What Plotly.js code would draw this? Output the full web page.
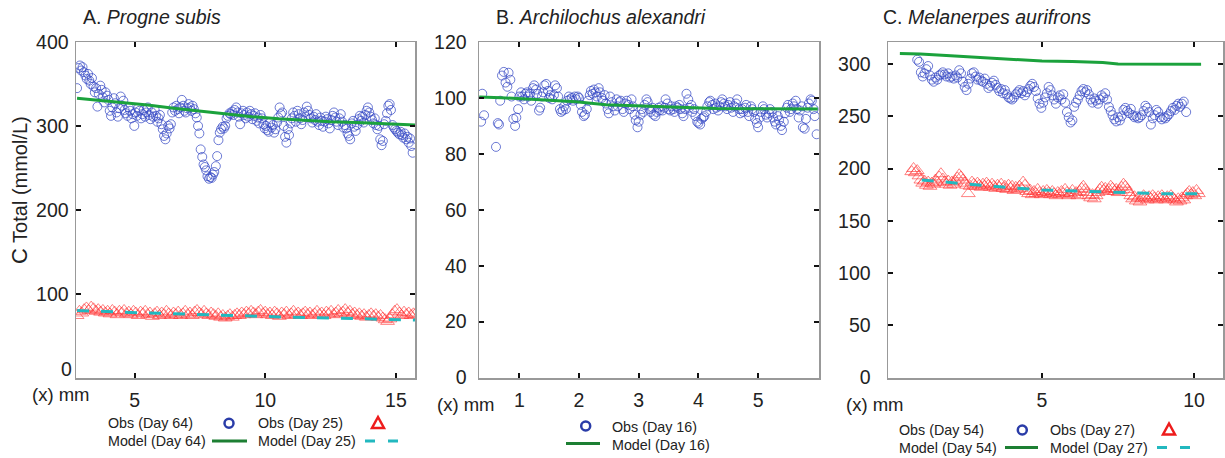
<!DOCTYPE html>
<html><head><meta charset="utf-8">
<script src="https://cdn.plot.ly/plotly-3.0.1.min.js"></script>
<style>html,body{margin:0;padding:0;background:#fff;}#chart{width:1225px;height:458px;}</style>
</head><body><div id="chart"></div>
<script>
// ---------- Panel A: Progne subis ----------
const obsA64_x=[2.80,2.86,2.91,2.96,3.01,3.06,3.12,3.17,3.22,3.27,3.32,3.37,3.43,3.48,3.53,3.58,3.63,3.69,3.74,3.79,3.84,3.89,3.95,4.00,4.05,4.10,4.15,4.21,4.26,4.31,4.36,4.41,4.47,4.52,4.57,4.62,4.67,4.73,4.78,4.83,4.88,4.93,4.99,5.04,5.09,5.14,5.19,5.25,5.30,5.35,5.40,5.45,5.51,5.56,5.61,5.66,5.71,5.77,5.82,5.87,5.92,5.97,6.03,6.08,6.13,6.18,6.23,6.29,6.34,6.39,6.44,6.49,6.55,6.60,6.65,6.70,6.75,6.81,6.86,6.91,6.96,7.01,7.07,7.12,7.17,7.22,7.27,7.33,7.38,7.43,7.48,7.53,7.59,7.64,7.69,7.74,7.79,7.85,7.90,7.95,8.00,8.05,8.11,8.16,8.21,8.26,8.31,8.37,8.42,8.47,8.52,8.57,8.63,8.68,8.73,8.78,8.83,8.89,8.94,8.99,9.04,9.09,9.15,9.20,9.25,9.30,9.35,9.41,9.46,9.51,9.56,9.61,9.67,9.72,9.77,9.82,9.87,9.93,9.98,10.03,10.08,10.13,10.19,10.24,10.29,10.34,10.39,10.45,10.50,10.55,10.60,10.65,10.71,10.76,10.81,10.86,10.91,10.97,11.02,11.07,11.12,11.17,11.23,11.28,11.33,11.38,11.43,11.49,11.54,11.59,11.64,11.69,11.75,11.80,11.85,11.90,11.95,12.01,12.06,12.11,12.16,12.21,12.27,12.32,12.37,12.42,12.47,12.53,12.58,12.63,12.68,12.73,12.79,12.84,12.89,12.94,12.99,13.05,13.10,13.15,13.20,13.25,13.31,13.36,13.41,13.46,13.51,13.57,13.62,13.67,13.72,13.77,13.83,13.88,13.93,13.98,14.03,14.09,14.14,14.19,14.24,14.29,14.35,14.40,14.45,14.50,14.55,14.61,14.66,14.71,14.76,14.81,14.87,14.92,14.97,15.02,15.07,15.13,15.18,15.23,15.28,15.33,15.39,15.44,15.49,15.54,15.59,15.64];
const obsA64_y=[345,369,372,366,370,364,360,356,362,354,350,357,347,340,345,323,338,348,343,334,328,340,336,331,318,312,322,333,327,316,311,321,335,324,330,319,315,312,322,318,309,314,300,316,312,321,318,309,314,319,311,316,322,313,308,316,311,319,312,305,309,313,302,296,288,284,291,300,297,302,316,322,318,324,320,315,322,331,324,318,316,321,326,322,318,324,320,315,310,300,291,272,263,254,251,247,240,237,239,238,242,245,252,264,283,292,296,299,297,300,309,312,315,314,317,313,319,322,316,311,302,315,318,313,309,316,311,318,314,308,312,315,306,310,303,313,309,302,297,300,295,293,304,298,301,292,296,304,310,322,314,316,300,287,280,296,289,303,309,316,312,305,318,314,309,302,307,316,311,323,318,313,309,304,311,307,314,305,301,310,306,299,305,311,308,303,297,307,312,316,310,305,301,309,314,305,298,301,297,291,288,284,303,306,299,294,301,308,312,306,311,304,313,318,322,316,311,307,303,309,301,296,300,284,277,282,302,306,315,324,326,319,301,298,296,294,292,290,293,289,286,291,284,287,280,285,276,268];
const obsA25_x=[2.80,2.89,2.98,3.07,3.16,3.25,3.34,3.43,3.52,3.61,3.70,3.79,3.88,3.97,4.06,4.15,4.24,4.33,4.42,4.51,4.60,4.69,4.78,4.87,4.96,5.05,5.14,5.23,5.32,5.41,5.50,5.59,5.68,5.77,5.86,5.95,6.04,6.13,6.22,6.31,6.40,6.49,6.58,6.67,6.76,6.85,6.94,7.03,7.12,7.21,7.30,7.39,7.48,7.57,7.66,7.75,7.84,7.93,8.02,8.11,8.20,8.29,8.38,8.47,8.56,8.65,8.74,8.83,8.92,9.01,9.10,9.19,9.28,9.37,9.46,9.55,9.64,9.73,9.82,9.91,10.00,10.09,10.18,10.27,10.36,10.45,10.54,10.63,10.72,10.81,10.90,10.99,11.08,11.17,11.26,11.35,11.44,11.53,11.62,11.71,11.80,11.89,11.98,12.07,12.16,12.25,12.34,12.43,12.52,12.61,12.70,12.79,12.88,12.97,13.06,13.15,13.24,13.33,13.42,13.51,13.60,13.69,13.78,13.87,13.96,14.05,14.14,14.23,14.32,14.41,14.50,14.59,14.68,14.77,14.86,14.95,15.04,15.13,15.22,15.31,15.40,15.49,15.58,15.67,15.73];
const obsA25_y=[74,79,77,81,83,80,84,82,79,81,78,80,77,79,76,80,78,75,79,77,80,76,78,75,79,77,74,78,76,79,75,77,73,76,78,74,77,75,79,76,74,77,75,78,74,76,79,75,77,74,78,80,77,75,79,76,74,77,75,73,76,72,74,71,73,75,72,74,76,74,77,75,78,76,79,77,75,78,80,76,78,75,77,74,78,76,73,77,75,78,74,76,79,75,77,74,76,78,75,77,74,76,79,75,77,74,78,76,79,75,77,80,76,78,81,77,79,75,77,74,76,73,75,72,74,76,73,75,72,74,71,69,67,70,75,79,81,77,74,78,75,77,74,76,75];
const modA64_x=[2.8,3.5,4.5,5.5,6.5,7.5,8.5,9.5,10.5,11.5,12.5,13.5,14.5,15.73];
const modA64_y=[333,331,328,325,321,317.5,314,311,308.5,306.5,305,304,302.5,301];
const modA25_x=[2.8,3.5,4.5,5.5,6.5,7.5,8.5,9.5,10.5,11.5,12.5,13.5,14.5,15.73];
const modA25_y=[80,79.5,78,77,76,75.5,74,73,72,71.5,71,70,69,68.5];

// ---------- Panel B: Archilochus alexandri ----------
const obsB16_x=[0.36,0.38,0.41,0.61,0.64,0.66,0.68,0.71,0.74,0.77,0.80,0.82,0.85,0.87,0.90,0.93,0.95,0.98,1.00,1.03,1.05,1.08,1.10,1.13,1.15,1.18,1.20,1.23,1.25,1.28,1.30,1.33,1.35,1.38,1.40,1.42,1.45,1.48,1.50,1.52,1.55,1.58,1.60,1.63,1.65,1.68,1.70,1.73,1.75,1.78,1.80,1.83,1.85,1.88,1.90,1.93,1.95,1.98,2.00,2.03,2.05,2.08,2.10,2.13,2.15,2.18,2.20,2.23,2.25,2.28,2.30,2.33,2.35,2.38,2.40,2.43,2.45,2.48,2.50,2.52,2.55,2.57,2.60,2.63,2.65,2.68,2.70,2.73,2.75,2.78,2.80,2.83,2.85,2.88,2.90,2.93,2.95,2.98,3.00,3.03,3.05,3.08,3.10,3.13,3.15,3.18,3.20,3.23,3.25,3.28,3.30,3.33,3.35,3.38,3.40,3.43,3.45,3.48,3.50,3.53,3.55,3.58,3.60,3.63,3.65,3.68,3.70,3.73,3.75,3.78,3.80,3.83,3.85,3.88,3.90,3.93,3.95,3.98,4.00,4.03,4.05,4.08,4.10,4.13,4.15,4.18,4.20,4.23,4.25,4.28,4.30,4.33,4.35,4.38,4.40,4.43,4.45,4.48,4.50,4.53,4.55,4.58,4.60,4.63,4.65,4.68,4.70,4.73,4.75,4.78,4.80,4.83,4.85,4.88,4.90,4.93,4.95,4.98,5.00,5.03,5.05,5.08,5.10,5.13,5.15,5.18,5.20,5.23,5.25,5.28,5.30,5.33,5.35,5.38,5.40,5.43,5.45,5.48,5.50,5.53,5.55,5.58,5.60,5.63,5.65,5.68,5.70,5.73,5.75,5.78,5.80,5.83,5.85,5.88,5.90,5.93,5.95,5.98];
const obsB16_y=[91.5,101.5,93.8,82.5,91,90.5,99,108,109.3,105.5,104,109,106.5,100.5,92.5,90,93,96,100.5,102,100.5,99.5,101.5,102,100.5,101.5,99,103.5,104.5,103,101.5,95.5,96.5,100.5,102,104.5,105,102.5,100,101,99.5,101,104.5,103.5,100.5,96,95,95.5,97,96,99,100.5,99.5,100,99,100.5,99.5,100.5,100,97.5,95,93.5,94,96,99,101,102.5,101.5,103,102,100.5,103.5,102,100,99,101,98,96,94.5,100.5,98.5,97,95.5,99.5,97,98.5,99,96,95,98,99,97.5,96,99.5,97,94,92,89.5,91.5,94,96,95,97.5,99.5,98.5,96,95,96.5,94,93.5,95,96.5,95.5,97,95.5,96.5,99.5,98,96,95.5,97,96,95,97,96.5,97.5,96,94.5,93.5,96,101.5,99.5,96.5,97.5,95,96,93.5,91.5,91,90.5,92.5,93,93.5,95,97,98.5,99,97.5,96,98,96.5,95.5,97,98.5,99.5,98,97,96,97.5,98.5,96.5,95,97,98,99.5,96,94.5,96,95,96.5,97.5,95,93.5,97,96,95,92.5,91,89.5,93,95,97,96,94,93,94.5,96,95,93,91.5,90.5,93.5,92,90,88.5,91.5,94.5,96.5,97.5,95,96,98,97,99,96,93,95.5,97,89.5,89,92.5,96.5,98,99.5,99,96,93.5,87];
const modB16_x=[0.33,0.7,1.2,1.95,2.45,3.0,3.3,3.8,4.3,5.0,5.5,6.0];
const modB16_y=[100.3,100.1,99.5,98.6,97.6,97.2,96.8,96.6,96.2,96.1,96.0,96.0];

// ---------- Panel C: Melanerpes aurifrons ----------
const obsC54_x=[0.90,0.96,1.02,1.08,1.14,1.20,1.26,1.32,1.38,1.44,1.50,1.56,1.62,1.68,1.74,1.80,1.86,1.92,1.98,2.04,2.10,2.16,2.22,2.28,2.34,2.40,2.46,2.52,2.58,2.64,2.70,2.76,2.82,2.88,2.94,3.00,3.06,3.12,3.18,3.24,3.30,3.36,3.42,3.48,3.54,3.60,3.66,3.72,3.78,3.84,3.90,3.96,4.02,4.08,4.14,4.20,4.26,4.32,4.38,4.44,4.50,4.56,4.62,4.68,4.74,4.80,4.86,4.92,4.98,5.04,5.10,5.16,5.22,5.28,5.34,5.40,5.46,5.52,5.58,5.64,5.70,5.76,5.82,5.88,5.94,6.00,6.06,6.12,6.18,6.24,6.30,6.36,6.42,6.48,6.54,6.60,6.66,6.72,6.78,6.84,6.90,6.96,7.02,7.08,7.14,7.20,7.26,7.32,7.38,7.44,7.50,7.56,7.62,7.68,7.74,7.80,7.86,7.92,7.98,8.04,8.10,8.16,8.22,8.28,8.34,8.40,8.46,8.52,8.58,8.64,8.70,8.76,8.82,8.88,8.94,9.00,9.06,9.12,9.18,9.24,9.30,9.36,9.42,9.48,9.54,9.60,9.66,9.74];
const obsC54_y=[304,302,292,288,291,295,298,289,285,283,287,285,289,290,292,290,288,291,287,288,286,289,287,294,291,283,278,275,281,286,291,292,288,285,287,284,283,286,281,277,279,282,284,280,277,274,276,272,275,271,268,267,266,268,271,273,275,272,274,270,273,276,279,281,278,274,267,262,258,263,268,272,278,275,270,266,262,268,270,266,271,263,254,249,244,246,259,263,266,270,274,276,273,275,271,266,263,267,265,262,266,270,268,272,266,259,255,251,247,245,249,246,250,256,258,255,253,257,251,249,250,248,249,251,255,260,258,254,242,248,251,256,254,249,247,249,248,250,252,255,258,256,260,262,259,262,264,254];
const obsC27_x=[0.72,0.78,0.84,0.90,0.96,1.02,1.08,1.14,1.20,1.26,1.32,1.38,1.44,1.50,1.56,1.62,1.68,1.74,1.80,1.86,1.92,1.98,2.04,2.10,2.16,2.22,2.28,2.34,2.40,2.46,2.52,2.58,2.64,2.70,2.76,2.82,2.88,2.94,3.00,3.06,3.12,3.18,3.24,3.30,3.36,3.42,3.48,3.54,3.60,3.66,3.72,3.78,3.84,3.90,3.96,4.02,4.08,4.14,4.20,4.26,4.32,4.38,4.44,4.50,4.56,4.62,4.68,4.74,4.80,4.86,4.92,4.98,5.04,5.10,5.16,5.22,5.28,5.34,5.40,5.46,5.52,5.58,5.64,5.70,5.76,5.82,5.88,5.94,6.00,6.06,6.12,6.18,6.24,6.30,6.36,6.42,6.48,6.54,6.60,6.66,6.72,6.78,6.84,6.90,6.96,7.02,7.08,7.14,7.20,7.26,7.32,7.38,7.44,7.50,7.56,7.62,7.68,7.74,7.80,7.86,7.92,7.98,8.04,8.10,8.16,8.22,8.28,8.34,8.40,8.46,8.52,8.58,8.64,8.70,8.76,8.82,8.88,8.94,9.00,9.06,9.12,9.18,9.24,9.30,9.36,9.42,9.48,9.54,9.60,9.66,9.72,9.78,9.84,9.90,9.96,10.02,10.08,10.14];
const obsC27_y=[197,200,196,198,193,189,186,188,184,187,183,186,185,189,187,192,195,190,187,185,188,184,187,185,188,191,194,192,189,186,184,176,183,187,185,183,186,184,182,185,183,186,184,182,185,183,181,184,182,185,181,183,180,184,181,183,179,182,180,183,181,187,184,178,176,179,175,178,176,180,177,175,178,176,179,177,175,178,176,174,177,175,178,176,180,177,174,176,179,175,177,174,178,181,183,180,177,174,172,175,171,174,177,180,182,179,181,178,180,183,181,178,180,177,179,182,185,183,180,177,174,171,173,169,172,168,171,174,172,170,173,171,174,172,170,173,171,174,172,170,173,171,174,172,170,168,171,169,172,170,174,176,178,175,177,174,179,176];
const modC54_x=[0.33,1.0,2.0,3.0,4.0,5.0,6.0,7.0,7.5,8.5,9.5,10.23];
const modC54_y=[310,309.5,307.8,306,304.5,302.8,302.3,301.5,300,300,299.8,299.6];
const modC27_x=[1.05,2.0,3.0,4.0,5.0,6.0,7.0,8.0,9.0,10.23];
const modC27_y=[189,186.5,184,181.5,179.5,178.5,177.5,176.5,175.8,175.8];

// tick labels
const ticksA_x=[5,10,15], ticksA_y=[0,100,200,300,400];
const ticksB_x=[1,2,3,4,5], ticksB_y=[0,20,40,60,80,100,120];
const ticksC_x=[5,10], ticksC_y=[0,50,100,150,200,250,300];

// ---------- styles ----------
const BLUE='rgba(50,70,195,0.8)', RED='rgba(255,50,50,0.6)', GREEN='#1ba23c', CYAN='#22b8bf';
const FONT='Arial, "Liberation Sans", Helvetica, sans-serif';
const W=1225,H=458;
const X=p=>p/W, Y=p=>1-p/H;

function circ(xs,ys,xa,ya){return {x:xs,y:ys,xaxis:xa,yaxis:ya,type:'scatter',mode:'markers',
  marker:{symbol:'circle-open',size:9,color:BLUE,line:{width:0.9,color:BLUE}},hoverinfo:'skip'};}
function tri(xs,ys,xa,ya){return {x:xs,y:ys,xaxis:xa,yaxis:ya,type:'scatter',mode:'markers',
  marker:{symbol:'triangle-up-open',size:12,color:RED,line:{width:1,color:RED}},hoverinfo:'skip'};}
function gline(xs,ys,xa,ya){return {x:xs,y:ys,xaxis:xa,yaxis:ya,type:'scatter',mode:'lines',
  line:{color:GREEN,width:3},hoverinfo:'skip'};}
function cline(xs,ys,xa,ya){return {x:xs,y:ys,xaxis:xa,yaxis:ya,type:'scatter',mode:'lines',
  line:{color:CYAN,width:3,dash:'12px,12px'},hoverinfo:'skip'};}

const data=[
  tri(obsA25_x,obsA25_y,'x','y'), circ(obsA64_x,obsA64_y,'x','y'),
  gline(modA64_x,modA64_y,'x','y'), cline(modA25_x,modA25_y,'x','y'),
  circ(obsB16_x,obsB16_y,'x2','y2'), gline(modB16_x,modB16_y,'x2','y2'),
  tri(obsC27_x,obsC27_y,'x3','y3'), circ(obsC54_x,obsC54_y,'x3','y3'),
  gline(modC54_x,modC54_y,'x3','y3'), cline(modC27_x,modC27_y,'x3','y3')
];

const yDom=[Y(378),Y(42)];
const TF={family:FONT,size:19.5,color:'#222'};
function xax(dom,range,tv,anchor){return {domain:dom,range:range,tickvals:tv,ticktext:tv.map(String),anchor:anchor,
  ticks:'inside',ticklen:5,tickwidth:2,tickcolor:'#111',showline:true,linecolor:'#999',linewidth:1.5,mirror:'ticks',
  showgrid:false,zeroline:false,tickfont:TF,ticklabelstandoff:4,fixedrange:true};}
function yax(range,tv,tt,anchor,standoff){return {domain:yDom,range:range,tickvals:tv,ticktext:tt,anchor:anchor,
  ticks:'inside',ticklen:5,tickwidth:2,tickcolor:'#111',showline:true,linecolor:'#999',linewidth:1.5,mirror:'ticks',
  showgrid:false,zeroline:false,tickfont:TF,ticklabelstandoff:standoff,fixedrange:true};}

const ann=[];
function txt(t,px,py,size,anchor){ann.push({text:t,x:X(px),y:Y(py),xref:'paper',yref:'paper',xanchor:anchor||'left',yanchor:'middle',
  showarrow:false,font:{family:FONT,size:size,color:'#222'},borderpad:0});}
txt('A. <i>Progne subis</i>',82,17,19.5);
txt('B. <i>Archilochus alexandri</i>',495,17,19.5);
txt('C. <i>Melanerpes aurifrons</i>',882,17,19.5);
txt('(x) mm',31,394,18.5);
txt('(x) mm',436,404,18.5);
txt('(x) mm',845,404,18.5);
// panel A's "0" label sits a little above its tick in the reference
txt(String(ticksA_y[0]),73,369,19.5,'right');
ann.push({text:'<span style="font-size:22px">C</span> Total (mmol/L)',x:X(20),y:Y(190),xref:'paper',yref:'paper',xanchor:'center',yanchor:'middle',
  textangle:-90,showarrow:false,font:{family:FONT,size:20,color:'#222'}});
// legends
txt('Obs (Day 64)',107,423,14.3); txt('Obs (Day 25)',257,423,14.3);
txt('Model (Day 64)',107,441,14.3); txt('Model (Day 25)',257,441,14.3);
txt('Obs (Day 16)',611,427,14.3); txt('Model (Day 16)',611,444.5,14.3);
txt('Obs (Day 54)',898,430,14.3); txt('Obs (Day 27)',1049,430,14.3);
txt('Model (Day 54)',898,447.5,14.3); txt('Model (Day 27)',1049,447.5,14.3);

const shapes=[];
function lcirc(cx,cy){const r=4.5;shapes.push({type:'circle',xref:'paper',yref:'paper',x0:X(cx-r),x1:X(cx+r),y0:Y(cy+r),y1:Y(cy-r),
  line:{color:'#2a3ca8',width:2.5}});}
function ltri(cx,cy){const a=`M${X(cx-6)},${Y(cy+5)} L${X(cx+6)},${Y(cy+5)} L${X(cx)},${Y(cy-6)} Z`;
  shapes.push({type:'path',xref:'paper',yref:'paper',path:a,line:{color:'#ee1c1c',width:2.5}});}
function lline(x0,x1,cy,col,dash){shapes.push({type:'line',xref:'paper',yref:'paper',x0:X(x0),x1:X(x1),y0:Y(cy),y1:Y(cy),
  line:{color:col,width:3,dash:dash||'solid'}});}
lcirc(229,423.3); ltri(378,423); lline(212,247,441,'#1d7f33'); lline(365,400,441,CYAN,'10px,13px');
lcirc(585.7,426); lline(566,600,443.5,'#1d7f33');
lcirc(1022.3,430); ltri(1169,429.5); lline(1005,1038,447.5,'#1d7f33'); lline(1157,1191,447.5,CYAN,'10px,13px');

const layout={width:W,height:H,margin:{l:0,r:0,t:0,b:0},paper_bgcolor:'#fff',plot_bgcolor:'#fff',showlegend:false,
  font:{family:FONT,color:'#222'},
  xaxis:xax([X(76),X(415)],[2.76,15.73],ticksA_x,'y'),
  yaxis:yax([-0.5,400],ticksA_y,ticksA_y.map((v,i)=>i===0?'':String(v)),'x',2),
  xaxis2:xax([X(479),X(819)],[0.325,6.02],ticksB_x,'y2'),
  yaxis2:yax([-0.15,120],ticksB_y,ticksB_y.map(String),'x2',7),
  xaxis3:xax([X(888),X(1223)],[-0.06,10.95],ticksC_x,'y3'),
  yaxis3:yax([-0.4,321],ticksC_y,ticksC_y.map(String),'x3',12),
  annotations:ann,shapes:shapes};
Plotly.newPlot('chart',data,layout,{displayModeBar:false,staticPlot:true});
</script></body></html>
